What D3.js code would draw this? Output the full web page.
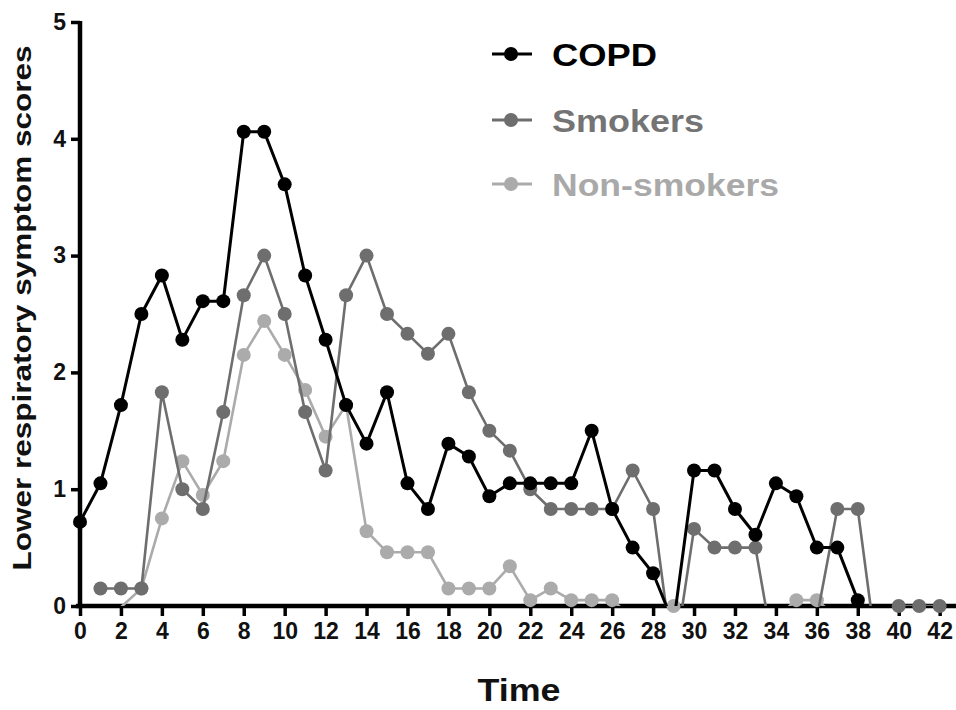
<!DOCTYPE html>
<html lang="en">
  <head>
    <meta charset="UTF-8" />
    <meta name="viewport" content="width=device-width, initial-scale=1.0" />
    <title>Lower respiratory symptom scores</title>
    <style>
      * {
        margin: 0;
        padding: 0;
      }
      body {
        background: #fff;
      }
      text {
        font-family: 'Liberation Sans', Arial, sans-serif;
        font-weight: bold;
      }
    </style>
  </head>
  <body>
    <script src="https://cdn.jsdelivr.net/npm/d3@7"></script>
    <script>
      // time points (x) and scores; values below 0 fall under the axis and are clipped
      const times = [0, 1, 2, 3, 4, 5, 6, 7, 8, 9, 10, 11, 12, 13, 14, 15, 16, 17, 18, 19, 20,
        21, 22, 23, 24, 25, 26, 27, 28, 29, 30, 31, 32, 33, 34, 35, 36, 37, 38, 39, 40, 41, 42]

      const copd = [0.72, 1.05, 1.72, 2.5, 2.83, 2.28, 2.61, 2.61, 4.06, 4.06, 3.61,
        2.83, 2.28, 1.72, 1.39, 1.83, 1.05, 0.83, 1.39, 1.28, 0.94,
        1.05, 1.05, 1.05, 1.05, 1.5, 0.83, 0.5, 0.28, -0.15, 1.16,
        1.16, 0.83, 0.61, 1.05, 0.94, 0.5, 0.5, 0.05, null, null, null, null]

      const smokers = [null, 0.15, 0.15, 0.15, 1.83, 1.0, 0.83, 1.66, 2.66, 3.0, 2.5,
        1.66, 1.16, 2.66, 3.0, 2.5, 2.33, 2.16, 2.33, 1.83, 1.5,
        1.33, 1.0, 0.83, 0.83, 0.83, 0.83, 1.16, 0.83, -0.5, 0.66,
        0.5, 0.5, 0.5, -0.5, -0.5, -0.1, 0.83, 0.83, -0.5, 0, 0, 0]

      const nonSmokers = [null, -0.1, -0.01, 0.15, 0.75, 1.24, 0.95, 1.24, 2.15, 2.44, 2.15,
        1.85, 1.45, 1.72, 0.64, 0.46, 0.46, 0.46, 0.15, 0.15, 0.15,
        0.34, 0.05, 0.15, 0.05, 0.05, 0.05, -0.1, -0.1, 0, -0.1,
        -0.1, -0.1, -0.1, -0.1, 0.05, 0.05, -0.1, null, null, null, null, null]

      const xTicks = [0, 2, 4, 6, 8, 10, 12, 14, 16, 18, 20, 22, 24, 26, 28, 30, 32, 34, 36, 38, 40, 42]
      const yTicks = [0, 1, 2, 3, 4, 5]

      const seriesNames = ['COPD', 'Smokers', 'Non-smokers']
      const seriesValues = [copd, smokers, nonSmokers]
      const seriesColors = ['#000000', '#6e6e6e', '#ababab']
      const labelColors = ['#000000', '#747474', '#a9a9a9']

      const width = 956
      const height = 710

      const svg = d3
        .select('body')
        .append('svg')
        .attr('width', width)
        .attr('height', height)

      const x = d3.scaleLinear().domain([0, 42.75]).range([80, 955])
      const y = d3.scaleLinear().domain([0, 5]).range([606, 22])

      // clip lines at the x axis
      svg
        .append('clipPath')
        .attr('id', 'plot-clip')
        .append('rect')
        .attr('x', 0)
        .attr('y', 0)
        .attr('width', width)
        .attr('height', y(0))

      // axes
      const xAxis = svg
        .append('g')
        .attr('transform', `translate(0,${y(0)})`)
        .call(d3.axisBottom(x).tickValues(xTicks).tickSize(10).tickSizeOuter(0).tickPadding(7))

      const yAxis = svg
        .append('g')
        .attr('transform', `translate(${x(0)},0)`)
        .call(
          d3.axisLeft(y).tickValues(yTicks).tickFormat(d3.format('d')).tickSize(9).tickSizeOuter(0).tickPadding(5)
        )

      xAxis.select('.domain').attr('stroke-width', 4.5).attr('d', `M${x(0) - 4},0H${width}`)
      yAxis.select('.domain').attr('stroke-width', 4.5).attr('d', `M0,${y(5) - 1}V${y(0) + 2}`)
      svg.selectAll('.tick line').attr('stroke-width', 3.5)
      svg.selectAll('.tick text').attr('font-size', 23).attr('fill', '#111')

      // series, non-smokers first so COPD stays on top
      const line = d3
        .line()
        .defined(d => d.v !== null)
        .x(d => x(d.t))
        .y(d => y(d.v))

      for (let i = seriesNames.length - 1; i >= 0; i--) {
        const pts = times.map((t, j) => ({ t: t, v: seriesValues[i][j] }))
        const g = svg.append('g')

        g.append('path')
          .datum(pts)
          .attr('clip-path', 'url(#plot-clip)')
          .attr('fill', 'none')
          .attr('stroke', seriesColors[i])
          .attr('stroke-width', i === 0 ? 3 : 2.6)
          .attr('d', line)

        g.selectAll('circle')
          .data(pts.filter(d => d.v !== null && d.v >= 0))
          .join('circle')
          .attr('cx', d => x(d.t))
          .attr('cy', d => y(d.v))
          .attr('r', 7)
          .attr('fill', seriesColors[i])
      }

      // legend
      const legendY = [54, 120, 184]
      const legendWidths = [105, 152, 227]
      seriesNames.forEach((name, i) => {
        const lg = svg.append('g').attr('transform', `translate(0,${legendY[i]})`)
        lg.append('line')
          .attr('x1', 492)
          .attr('x2', 532)
          .attr('stroke', seriesColors[i])
          .attr('stroke-width', 3)
        lg.append('circle').attr('cx', 511).attr('r', 7).attr('fill', seriesColors[i])
        lg.append('text')
          .attr('x', 552)
          .attr('y', 12)
          .attr('font-size', 32)
          .attr('textLength', legendWidths[i])
          .attr('lengthAdjust', 'spacingAndGlyphs')
          .attr('fill', labelColors[i])
          .text(name)
      })

      // axis titles
      svg
        .append('text')
        .attr('x', 519)
        .attr('y', 701)
        .attr('text-anchor', 'middle')
        .attr('font-size', 32)
        .attr('textLength', 83)
        .attr('lengthAdjust', 'spacingAndGlyphs')
        .attr('fill', '#111')
        .text('Time')

      svg
        .append('text')
        .attr('transform', 'translate(31,308) rotate(-90)')
        .attr('text-anchor', 'middle')
        .attr('font-size', 25)
        .attr('textLength', 525)
        .attr('lengthAdjust', 'spacingAndGlyphs')
        .attr('fill', '#111')
        .text('Lower respiratory symptom scores')
    </script>
  </body>
</html>
